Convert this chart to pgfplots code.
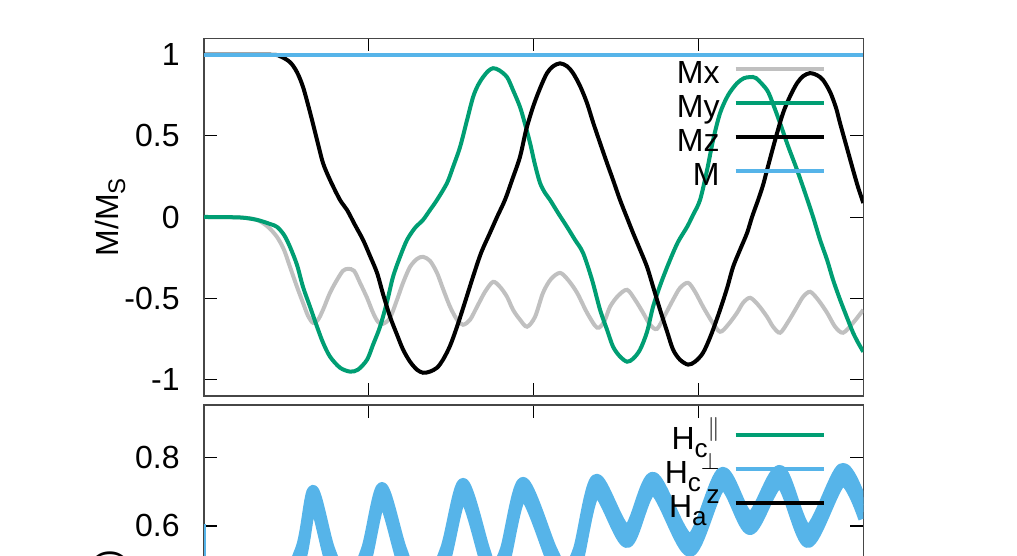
\documentclass[border=0pt]{standalone}
\usepackage{fontspec}
\setmainfont{Liberation Sans}
\usepackage{pgfplots}
\usepackage{pgfplotstable}
\pgfplotsset{compat=1.18}
\definecolor{cgray}{RGB}{192,192,192}
\definecolor{cgreen}{RGB}{0,158,115}
\definecolor{cblue}{RGB}{86,180,233}
\definecolor{caxis}{RGB}{70,70,70}
\newcommand{\bigf}{\fontsize{16}{19}\selectfont}
\newcommand{\smf}{\fontsize{12}{13}\selectfont}
\newcommand{\lgf}{\fontsize{13}{14}\selectfont}
\newcommand{\sub}[1]{\raisebox{-3.5pt}{\smf #1}}
\newcommand{\lsub}[1]{\raisebox{-4pt}{\lgf #1}}
\newcommand{\lsup}[1]{\raisebox{7pt}{\lgf #1}}
% H_c perp: centre of the band and its upper / lower edges
\pgfplotstableread{
x y yu yl
0.02 0.35 0.37 0.33
0.40 0.36 0.38 0.34
0.583 0.512 0.532 0.492
0.661 0.686 0.706 0.666
0.765 0.512 0.532 0.492
0.874 0.41 0.43 0.39
0.983 0.512 0.532 0.492
1.080 0.694 0.714 0.674
1.201 0.512 0.532 0.492
1.323 0.38 0.40 0.36
1.462 0.512 0.532 0.492
1.572 0.706 0.726 0.686
1.705 0.512 0.532 0.492
1.754 0.45 0.47 0.43
1.826 0.512 0.532 0.492
1.936 0.709 0.729 0.689
2.112 0.512 0.532 0.492
2.191 0.45 0.47 0.43
2.269 0.512 0.532 0.492
2.379 0.718 0.738 0.698
2.567 0.570 0.590 0.550
2.725 0.724 0.744 0.704
2.949 0.544 0.564 0.524
3.143 0.738 0.758 0.718
3.313 0.608 0.628 0.588
3.495 0.744 0.764 0.724
3.665 0.570 0.590 0.550
3.871 0.750 0.770 0.730
4.0 0.641 0.661 0.621
}\hcperp
\pgfplotsset{
  myaxis/.style={
    scale only axis, width=329.65pt,
    xmin=0, xmax=4, xtick={1,2,3}, xticklabels={},
    tick align=inside, major tick length=6.5pt,
    axis line style={caxis, line width=0.7pt},
    every tick/.style={black, line width=0.6pt},
    tick label style={font=\bigf},
    /pgf/number format/assume math mode=true,
    yticklabel style={inner sep=0pt, xshift=-12pt},
    legend style={draw=none, fill=none, font=\bigf, anchor=north east,
      nodes={inner sep=0pt, text height=12pt, text depth=5pt},
      column sep=7pt, row sep=0pt},
    legend cell align=right, legend plot pos=right,
    legend image code/.code={\draw[#1, line width=2pt] (0pt,3.75pt) -- (44pt,3.75pt);},
  }
}
\begin{document}
\begin{tikzpicture}
% ---------------- top panel ----------------
\begin{axis}[myaxis, at={(102pt,80pt)}, anchor=south west, height=178.85pt,
  ymin=-1.1, ymax=1.1, ytick={-1,-0.5,0,0.5,1}, yticklabels={-1,-0.5,0,0.5,1},
  ylabel={M/M\sub{S}},
  every axis y label/.style={at={(axis description cs:-0.1425,0.5)}, rotate=90, anchor=center, font=\bigf},
  legend style={at={(0.9526,0.953)}}]
\addplot[cgray, line width=2pt, smooth] coordinates {
(0,0) (0.2184,-0.002) (0.3216,-0.017) (0.3883,-0.060) (0.4430,-0.122) (0.4854,-0.201)
(0.5218,-0.306) (0.5643,-0.429) (0.6007,-0.527) (0.6311,-0.607) (0.6614,-0.650)
(0.6917,-0.631) (0.7221,-0.570) (0.7646,-0.465) (0.8070,-0.386) (0.8434,-0.330)
(0.8738,-0.318) (0.9102,-0.330) (0.9466,-0.404) (0.9891,-0.496) (1.0255,-0.588)
(1.0558,-0.644) (1.0862,-0.656) (1.1286,-0.619) (1.1711,-0.508) (1.2075,-0.404)
(1.2500,-0.306) (1.2925,-0.257) (1.3289,-0.244) (1.3714,-0.269) (1.4138,-0.343)
(1.4502,-0.441) (1.4927,-0.551) (1.5352,-0.631) (1.5716,-0.662) (1.6141,-0.631)
(1.6566,-0.551) (1.7051,-0.459) (1.7536,-0.398) (1.7961,-0.429) (1.8386,-0.490)
(1.8750,-0.570) (1.9175,-0.631) (1.9599,-0.674) (2.0085,-0.613) (2.0570,-0.465)
(2.1056,-0.380) (2.1602,-0.343) (2.2087,-0.386) (2.2633,-0.465) (2.3240,-0.588)
(2.3847,-0.680) (2.4272,-0.644) (2.4636,-0.551) (2.5121,-0.484) (2.5667,-0.447)
(2.6153,-0.508) (2.6638,-0.588) (2.7063,-0.662) (2.7488,-0.687) (2.7973,-0.601)
(2.8459,-0.508) (2.8883,-0.435) (2.9369,-0.404) (2.9794,-0.459) (3.0279,-0.551)
(3.0825,-0.644) (3.1311,-0.705) (3.1796,-0.662) (3.2342,-0.588) (3.2706,-0.527)
(3.3131,-0.496) (3.3617,-0.539) (3.4163,-0.613) (3.4527,-0.674) (3.4951,-0.711)
(3.5437,-0.644) (3.5983,-0.551) (3.6347,-0.490) (3.6772,-0.459) (3.7257,-0.508)
(3.7803,-0.588) (3.8289,-0.674) (3.8774,-0.711) (3.9381,-0.650) (4.0,-0.570)};
\addlegendentry{Mx}
\addplot[cgreen, line width=2pt, smooth] coordinates {
(0,0.001) (0.2184,-0.002) (0.3216,-0.017) (0.4005,-0.042) (0.4430,-0.060)
(0.4854,-0.109) (0.5218,-0.183) (0.5643,-0.294) (0.6007,-0.429) (0.6432,-0.551)
(0.6857,-0.674) (0.7221,-0.772) (0.7646,-0.858) (0.8252,-0.926) (0.8859,-0.950)
(0.9345,-0.938) (0.9891,-0.877) (1.0255,-0.785) (1.0680,-0.674) (1.1104,-0.521)
(1.1468,-0.367) (1.1893,-0.244) (1.2318,-0.140) (1.2803,-0.066) (1.3289,-0.017)
(1.3714,0.044) (1.4138,0.106) (1.4745,0.210) (1.5109,0.308) (1.5534,0.431)
(1.5959,0.597) (1.6323,0.738) (1.6626,0.812) (1.6930,0.861) (1.7233,0.898)
(1.7536,0.916) (1.7900,0.904) (1.8386,0.861) (1.8750,0.781) (1.9175,0.677)
(1.9478,0.572) (1.9782,0.456) (2.0085,0.321) (2.0388,0.210) (2.0692,0.149)
(2.0995,0.106) (2.1481,0.026) (2.2027,-0.060) (2.2512,-0.140) (2.2998,-0.220)
(2.3544,-0.386) (2.4029,-0.570) (2.4454,-0.693) (2.4818,-0.797) (2.5243,-0.858)
(2.5667,-0.889) (2.6032,-0.871) (2.6456,-0.815) (2.6881,-0.705) (2.7245,-0.551)
(2.7731,-0.404) (2.8277,-0.263) (2.8762,-0.152) (2.9308,-0.060) (2.9672,0.014)
(3.0097,0.106) (3.0522,0.290) (3.0886,0.474) (3.1311,0.640) (3.1796,0.750)
(3.2342,0.824) (3.2767,0.855) (3.3131,0.861) (3.3495,0.855) (3.4163,0.781)
(3.4527,0.695) (3.4951,0.578) (3.5437,0.437) (3.5983,0.290) (3.6468,0.149)
(3.6954,0.001) (3.7379,-0.140) (3.7803,-0.263) (3.8167,-0.386) (3.8592,-0.508)
(3.9017,-0.619) (3.9381,-0.711) (3.9684,-0.772) (4.0,-0.828)};
\addlegendentry{My}
\addplot[black, line width=2pt, smooth] coordinates {
(0,1.0) (0.40,0.999) (0.461,0.990) (0.522,0.953) (0.564,0.892) (0.601,0.800)
(0.643,0.646) (0.686,0.474) (0.722,0.333) (0.765,0.228) (0.825,0.106) (0.868,0.044)
(0.916,-0.048) (0.965,-0.140) (1.007,-0.238) (1.050,-0.343) (1.086,-0.472)
(1.129,-0.613) (1.171,-0.723) (1.208,-0.815) (1.250,-0.889) (1.292,-0.938)
(1.329,-0.957) (1.371,-0.950) (1.414,-0.926) (1.450,-0.877) (1.493,-0.791)
(1.535,-0.674) (1.584,-0.521) (1.632,-0.367) (1.681,-0.220) (1.735,-0.097)
(1.778,0.001) (1.826,0.106) (1.869,0.228) (1.917,0.370) (1.954,0.535) (1.996,0.677)
(2.039,0.793) (2.081,0.886) (2.118,0.928) (2.160,0.946) (2.203,0.928) (2.239,0.886)
(2.282,0.806) (2.324,0.701) (2.360,0.585) (2.403,0.456) (2.445,0.333) (2.482,0.228)
(2.524,0.106) (2.567,-0.005) (2.603,-0.097) (2.646,-0.201) (2.688,-0.306)
(2.725,-0.429) (2.767,-0.570) (2.810,-0.705) (2.846,-0.815) (2.888,-0.877)
(2.937,-0.907) (2.979,-0.889) (3.028,-0.834) (3.077,-0.723) (3.131,-0.570)
(3.174,-0.435) (3.210,-0.306) (3.252,-0.201) (3.295,-0.097) (3.325,0.001)
(3.362,0.106) (3.392,0.198) (3.416,0.290) (3.465,0.474) (3.513,0.640) (3.556,0.744)
(3.598,0.824) (3.635,0.867) (3.677,0.886) (3.720,0.873) (3.756,0.843) (3.799,0.769)
(3.835,0.671) (3.859,0.578) (3.896,0.443) (3.938,0.290) (3.968,0.185) (4.0,0.087)};
\addlegendentry{Mz}
\addplot[cblue, line width=2pt] coordinates {(0,1) (4,1)};
\addlegendentry{M}
\end{axis}
% ---------------- bottom panel ----------------
\begin{axis}[myaxis, at={(102pt,75.5pt)}, anchor=north west, height=111.75pt,
  ymin=0.3, ymax=0.954, ytick={0.4,0.6,0.8}, yticklabels={0.4,0.6,0.8},
  ylabel={H (T)},
  every axis y label/.style={at={(axis description cs:-0.1425,0.352)}, rotate=90, anchor=east, inner sep=0pt, font=\bigf},
  legend style={at={(0.9526,0.929)}}]
\addlegendimage{cgreen}
\addlegendentry{H\lsub{c}\lsup{$\parallel$}}
\addlegendimage{cblue}
\addlegendentry{H\lsub{c}\lsup{$\perp$}}
\addlegendimage{black}
\addlegendentry{H\lsub{a}\lsup{z}}
\addplot[cblue, line width=1.5pt, forget plot] coordinates {(0.006,0.605) (0.006,0.35)};
\addplot[cblue, line width=5pt, smooth, tension=0.5, line join=round, forget plot] table[x=x, y=yu] {\hcperp};
\addplot[cblue, line width=5pt, smooth, tension=0.5, line join=round, forget plot] table[x=x, y=yl] {\hcperp};
\addplot[cblue, line width=5pt, smooth, tension=0.5, line join=round, forget plot] table[x=x, y=y] {\hcperp};
\end{axis}
\pgfresetboundingbox
\path[use as bounding box] (0,0) rectangle (508.5pt,278pt);
\end{tikzpicture}
\end{document}
